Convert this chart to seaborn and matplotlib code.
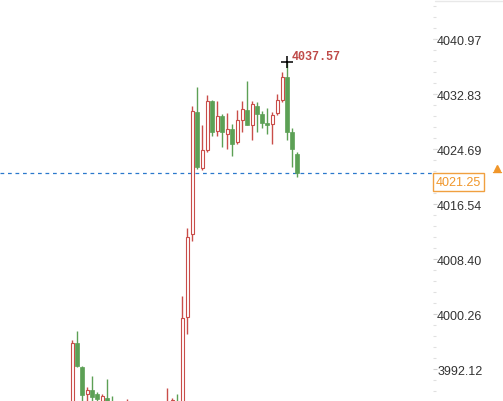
"""
K线图（局部放大）
"""
import numpy as np
import pandas as pd
import matplotlib
matplotlib.use('Agg')
import matplotlib.pyplot as plt
import seaborn as sns
from matplotlib.lines import Line2D
from matplotlib.ticker import FixedLocator, AutoMinorLocator

# 数据（从图上读取，下方被截断的K线为估计值）
opens = [3984.0, 3996.02, 3992.51, 3988.47, 3989.11, 3988.47, 3987.40, 3987.88, 3987.30, 3986.50,
         3985.60, 3986.20, 3986.80, 3985.60, 3985.00, 3985.50, 3984.90, 3985.30, 3985.10, 3985.50,
         3986.80, 3987.30, 3986.50, 3999.83, 4012.15, 4030.17, 4021.88, 4024.63, 4031.84, 4027.44,
         4029.66, 4026.95, 4027.69, 4025.73, 4029.07, 4030.51, 4028.33, 4031.14, 4029.91, 4028.58,
         4028.43, 4030.06, 4032.03, 4035.35, 4027.21, 4023.99]
highs = [3996.51, 3997.80, 3992.60, 3989.47, 3991.09, 3988.77, 3988.47, 3990.69, 3988.18, 3987.00,
         3986.90, 3987.70, 3987.10, 3986.40, 3986.00, 3986.20, 3985.80, 3986.30, 3986.60, 3989.36,
         3987.84, 3988.47, 4002.93, 4013.00, 4031.05, 4033.95, 4028.29, 4032.73, 4032.03, 4031.88,
         4029.91, 4030.06, 4028.43, 4030.55, 4031.88, 4034.75, 4031.88, 4031.73, 4030.40, 4030.76,
         4030.17, 4032.87, 4036.09, 4037.57, 4027.80, 4024.33]
lows = [3983.50, 3992.47, 3986.80, 3986.90, 3986.50, 3986.80, 3986.90, 3986.20, 3985.90, 3985.00,
        3984.80, 3985.50, 3985.20, 3984.60, 3984.20, 3984.50, 3984.00, 3984.80, 3984.70, 3985.00,
        3986.30, 3986.00, 3986.00, 3997.35, 4011.16, 4021.77, 4021.67, 4024.33, 4026.61, 4026.70,
        4024.99, 4024.73, 4023.74, 4025.47, 4027.29, 4028.33, 4026.11, 4027.21, 4027.80, 4026.95,
        4025.47, 4029.77, 4031.65, 4026.11, 4022.03, 4020.55]
closes = [3996.02, 3992.66, 3988.33, 3989.11, 3987.99, 3987.73, 3988.18, 3986.90, 3986.50, 3985.60,
          3986.20, 3986.80, 3985.60, 3985.00, 3985.50, 3984.90, 3985.30, 3985.10, 3986.20, 3987.00,
          3987.60, 3986.50, 3999.68, 4011.67, 4030.31, 4022.03, 4024.63, 4031.84, 4027.29, 4029.66,
          4027.21, 4027.69, 4025.47, 4029.03, 4030.65, 4028.33, 4031.39, 4029.91, 4028.58, 4028.33,
          4029.77, 4031.99, 4035.35, 4027.29, 4024.73, 4021.25]

y_ticks = [3992.12, 4000.26, 4008.40, 4016.54, 4024.69, 4032.83, 4040.97]
last_price = 4021.25
max_price = 4037.57

up_color = '#c94d49'
down_color = '#5ca055'

df = pd.DataFrame({'open': opens, 'high': highs, 'low': lows, 'close': closes})
df['up'] = df['close'] >= df['open']

sns.set_style('white')
plt.rcParams['font.family'] = ['Liberation Sans', 'DejaVu Sans']

fig = plt.figure(figsize=(5.03, 4.02), dpi=100)
ax = fig.add_axes([0, 0, 433 / 503, 1])

# 影线
for i, row in df.iterrows():
    c = up_color if row['up'] else down_color
    ax.vlines(i, row['low'], row['high'], color=c, linewidth=1.0, zorder=2)

# 实体：阳线空心，阴线实心
body_bottom = np.minimum(df['open'], df['close'])
body_height = np.maximum((df['close'] - df['open']).abs(), 0.15)
ax.bar(df.index[df['up']], body_height[df['up']], bottom=body_bottom[df['up']], width=0.62,
       facecolor='white', edgecolor=up_color, linewidth=0.8, zorder=3)
ax.bar(df.index[~df['up']], body_height[~df['up']], bottom=body_bottom[~df['up']], width=0.75,
       facecolor=down_color, edgecolor=down_color, linewidth=0.5, zorder=3)

# 最新价虚线
ax.axhline(last_price, color='#2a78cc', linestyle=(0, (3, 3)), linewidth=0.9, zorder=1)

# 最高价标注
i_max = int(np.argmax(df['high']))
ax.plot(i_max, max_price, marker='+', color='black', markersize=8, markeredgewidth=1.1, zorder=5)
ax.annotate(f'{max_price:.2f}', xy=(i_max, max_price), xytext=(4, 6), textcoords='offset pixels',
            ha='left', va='center', fontsize=8.5, fontweight='bold', color='#bf4a48',
            family=['Liberation Mono', 'DejaVu Sans Mono'])

ax.set_xlim(-14.46, 72.14)
ax.set_ylim(3987.44, 4046.93)

for s in ax.spines.values():
    s.set_visible(False)
ax.set_xticks([])
ax.yaxis.tick_right()
ax.yaxis.set_major_locator(FixedLocator(y_ticks))
ax.set_yticklabels([f'{v:.2f}' for v in y_ticks])
ax.yaxis.set_minor_locator(AutoMinorLocator(5))
ax.tick_params(axis='y', which='major', length=3, width=0.8, color='#d0d0d0', pad=0,
               labelsize=9, labelcolor='#333333', right=True)
ax.tick_params(axis='y', which='minor', length=2, width=0.8, color='#e0e0e0', right=True)

# 右侧最新价标签
fig.text(436 / 503, 1 - 183 / 402, f'{last_price:.2f}', ha='left', va='center', fontsize=9,
         color='#f0962a',
         bbox=dict(boxstyle='square,pad=0.25', facecolor='white', edgecolor='#f0a040', linewidth=1))
fig.add_artist(Line2D([497 / 503], [1 - 169 / 402], marker='^', markersize=5, color='#f0962a',
                      linestyle='none'))
fig.add_artist(Line2D([493 / 503, 501 / 503], [1 - 173 / 402, 1 - 173 / 402], color='#f0962a',
                      linewidth=1))
# 顶部浅色边线
fig.add_artist(Line2D([435 / 503, 1], [1 - 2 / 402, 1 - 2 / 402], color='#e8e8e8', linewidth=1))

plt.savefig('out.png', dpi=100)
plt.close()
